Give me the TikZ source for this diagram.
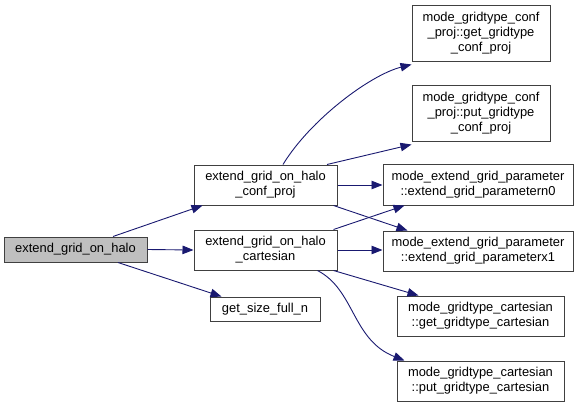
\documentclass[tikz,border=0pt]{standalone}
\usepackage{fontspec}
\setmainfont{Liberation Sans}
\usetikzlibrary{arrows.meta,calc}
\definecolor{edgeblue}{HTML}{191970}
\definecolor{boxline}{HTML}{404040}
\definecolor{rootfill}{HTML}{BFBFBF}
\begin{document}
\begin{tikzpicture}[x=1pt,y=-1pt,
  fbox/.style={draw=boxline,line width=1pt,fill=white,inner sep=0pt,align=center,
    font=\fontsize{12.9}{14.8}\selectfont},
  rootbox/.style={fbox,fill=rootfill},
  link/.style={draw=edgeblue,line width=0.9pt,-{Triangle[length=11pt,width=8.5pt]}}]
\useasboundingbox (0,0) rectangle (583,407);
\node[rootbox,minimum width=143pt,minimum height=25pt] (halo) at (75.5,249.5) {extend\_grid\_on\_halo};
\node[fbox,minimum width=143pt,minimum height=40pt] (cp) at (265.5,185) {extend\_grid\_on\_halo\\\_conf\_proj};
\node[fbox,minimum width=143pt,minimum height=40pt] (ca) at (265.5,250) {extend\_grid\_on\_halo\\\_cartesian};
\node[fbox,minimum width=110pt,minimum height=24pt] (gs) at (265,309) {get\_size\_full\_n};
\node[fbox,minimum width=138pt,minimum height=56pt] (gcp) at (481,33) {mode\_gridtype\_conf\\\_proj::get\_gridtype\\\_conf\_proj};
\node[fbox,minimum width=138pt,minimum height=56pt] (pcp) at (481,113) {mode\_gridtype\_conf\\\_proj::put\_gridtype\\\_conf\_proj};
\node[fbox,minimum width=190pt,minimum height=41pt] (n0) at (478,184.5) {mode\_extend\_grid\_parameter\\::extend\_grid\_parametern0};
\node[fbox,minimum width=190pt,minimum height=40pt] (x1) at (478,251) {mode\_extend\_grid\_parameter\\::extend\_grid\_parameterx1};
\node[fbox,minimum width=167pt,minimum height=40pt] (gc) at (480.5,316) {mode\_gridtype\_cartesian\\::get\_gridtype\_cartesian};
\node[fbox,minimum width=167pt,minimum height=40pt] (pc) at (480.5,381) {mode\_gridtype\_cartesian\\::put\_gridtype\_cartesian};

\draw[link] ([xshift=37.5pt]halo.north) -- ([xshift=9pt]cp.south west);
\draw[link] (halo.east) -- (ca.west);
\draw[link] ([xshift=42.5pt]halo.south) -- ([xshift=12pt]gs.north west);
\draw[link] ([xshift=17.5pt]cp.north) .. controls (310,120) and (370,75) .. ([yshift=-3pt]gcp.south west);
\draw[link] ([xshift=61.5pt]cp.north) -- ([yshift=-3pt]pcp.south west);
\draw[link] (cp.east) -- (cp.east -| n0.west);
\draw[link] ([xshift=-4pt]cp.south east) -- ([xshift=25pt]x1.north west);
\draw[link] ([xshift=-4pt]ca.north east) -- ([xshift=22pt]n0.south west);
\draw[link] (ca.east) -- (ca.east -| x1.west);
\draw[link] ([xshift=-4pt]ca.south east) -- ([xshift=22pt]gc.north west);
\draw[link] ([xshift=-20pt]ca.south east) .. controls (355,290) and (352,340) .. ([xshift=8pt]pc.north west);
\end{tikzpicture}
\end{document}
